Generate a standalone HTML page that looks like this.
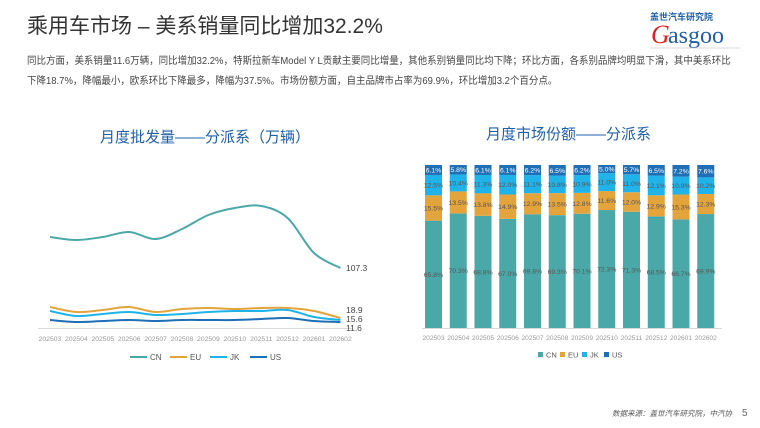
<!DOCTYPE html>
<html><head><meta charset="utf-8">
<style>
body{margin:0;width:760px;height:428px;background:#fff;position:relative;overflow:hidden;font-family:"Liberation Sans","Noto Sans CJK SC",sans-serif;}
.t{position:absolute;left:27px;top:10px;font-size:21px;color:#333;}
.p{position:absolute;left:27px;top:52px;white-space:nowrap;font-size:10.1px;line-height:20px;color:#444;transform:scaleX(0.94);transform-origin:0 0;}
svg{position:absolute;left:0;top:0}
</style></head><body>
<div class="t">乘用车市场 – 美系销量同比增加32.2%</div>
<div class="p">同比方面，美系销量11.6万辆，同比增加32.2%，特斯拉新车Model Y L贡献主要同比增量，其他系别销量同比均下降；环比方面，各系别品牌均明显下滑，其中美系环比<br>下降18.7%，降幅最小，欧系环比下降最多，降幅为37.5%。市场份额方面，自主品牌市占率为69.9%，环比增加3.2个百分点。</div>
<svg id="s" width="760" height="428" xmlns="http://www.w3.org/2000/svg" font-family="Liberation Sans, Noto Sans CJK SC, sans-serif">
<text x="650" y="20" font-size="9" fill="#1f5fa8" font-weight="bold">盖世汽车研究院</text>
<text x="668" y="43" font-size="24" fill="#1f5fa8" font-family="Liberation Serif, serif">asgoo</text>
<text x="651" y="43" font-size="26" fill="#d22" font-family="Liberation Serif, serif" font-style="italic">G</text>
<line x1="650" y1="48" x2="740" y2="48" stroke="#ccc" stroke-width="0.7"/>
<text x="100" y="142" font-size="15" fill="#1f5fa8">月度批发量——分派系（万辆）</text>
<text x="486" y="139" font-size="15" fill="#1f5fa8">月度市场份额——分派系</text>
<text x="612" y="416" font-size="7.5" fill="#555" font-style="italic">数据来源：盖世汽车研究院，中汽协</text>
<text x="742" y="416" font-size="10" fill="#666">5</text>
<g id="L"></g><g id="R"></g>
</svg>
<script>
const ns="http://www.w3.org/2000/svg";
function el(p,t,a,txt){const e=document.createElementNS(ns,t);for(const k in a)e.setAttribute(k,a[k]);if(txt!==undefined)e.textContent=txt;p.appendChild(e);return e;}
const mon=["202503","202504","202505","202506","202507","202508","202509","202510","202511","202512","202601","202602"];
const C={CN:"#4aa9a8",EU:"#e3a43c",JK:"#1fb3ea",US:"#1e6fb6"};
const L=document.getElementById("L");
const xs=mon.map((m,i)=>50+26.4*i);
el(L,"line",{x1:38,y1:328.5,x2:352,y2:328.5,stroke:"#d9d9d9","stroke-width":1});
mon.forEach((m,i)=>el(L,"text",{x:xs[i],y:341,"font-size":6.8,fill:"#999","text-anchor":"middle"},m));
const Y={CN:[237,240,237,232,239,229,215,208,206,218,253,268],
EU:[307,312,310,307,312,309,308,309,308,308,311,318],
JK:[311,316,314,312,315,314,312,311,311,310,317,320],
US:[320,322,321,320,321,320,320,320,319,318,321,322]};
function path(ys){let d=`M${xs[0]},${ys[0]}`;for(let i=0;i<ys.length-1;i++){const p0=[xs[Math.max(i-1,0)],ys[Math.max(i-1,0)]],p1=[xs[i],ys[i]],p2=[xs[i+1],ys[i+1]],p3=[xs[Math.min(i+2,ys.length-1)],ys[Math.min(i+2,ys.length-1)]];d+=` C${p1[0]+(p2[0]-p0[0])/6},${p1[1]+(p2[1]-p0[1])/6} ${p2[0]-(p3[0]-p1[0])/6},${p2[1]-(p3[1]-p1[1])/6} ${p2[0]},${p2[1]}`;}return d;}
["CN","EU","JK","US"].forEach(k=>el(L,"path",{d:path(Y[k]),fill:"none",stroke:C[k],"stroke-width":2}));
[["107.3",271],["18.9",313],["15.6",322],["11.6",331]].forEach(a=>el(L,"text",{x:346,y:a[1],"font-size":8.5,fill:"#444"},a[0]));
let lx=130;["CN","EU","JK","US"].forEach(k=>{el(L,"line",{x1:lx,y1:357,x2:lx+17,y2:357,stroke:C[k],"stroke-width":2});el(L,"text",{x:lx+20,y:360,"font-size":8,fill:"#555"},k);lx+=40;});
const R=document.getElementById("R");
const D=[[65.8,15.5,12.5,6.1],[70.3,13.5,10.4,5.8],[68.8,13.8,11.3,6.1],[67.0,14.9,12.0,6.1],[69.8,12.9,11.1,6.2],[69.3,13.5,10.8,6.5],[70.1,12.8,10.9,6.2],[72.3,11.6,11.0,5.0],[71.3,12.0,11.0,5.7],[68.5,12.9,12.1,6.5],[66.7,15.3,10.9,7.2],[69.9,12.3,10.2,7.6]];
const cols=[C.CN,C.EU,C.JK,C.US];
el(R,"line",{x1:422,y1:328.5,x2:722,y2:328.5,stroke:"#d9d9d9","stroke-width":1});
D.forEach((d,i)=>{const x=425+24.75*i,w=17;const tot=d.reduce((a,b)=>a+b,0);let y=328;
d.forEach((v,j)=>{const h=v/tot*163;y-=h;el(R,"rect",{x:x,y:y,width:w,height:h,fill:cols[j]});
el(R,"text",{x:x+w/2,y:y+h/2+2.5,"font-size":6.8,fill:j==3?"#fff":"#555","text-anchor":"middle"},v.toFixed(1)+"%");});
el(R,"text",{x:x+w/2,y:340,"font-size":6.6,fill:"#999","text-anchor":"middle"},mon[i]);});
let rx=538;["CN","EU","JK","US"].forEach((k,j)=>{el(R,"rect",{x:rx,y:352,width:5,height:5,fill:C[k]});el(R,"text",{x:rx+8,y:357.5,"font-size":7.5,fill:"#555"},k);rx+=22;});
</script>
</body></html>
